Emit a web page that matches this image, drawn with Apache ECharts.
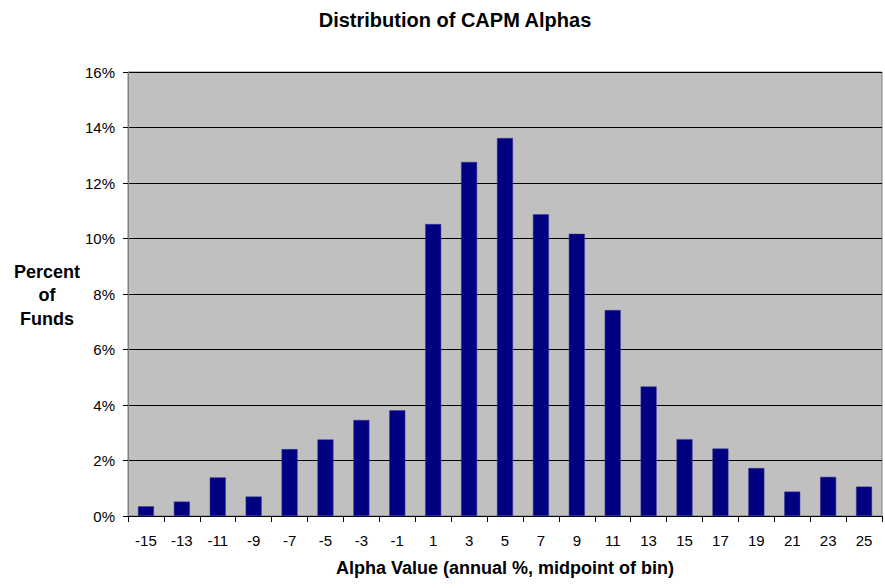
<!DOCTYPE html>
<html>
<head>
<meta charset="utf-8">
<script src="https://cdn.jsdelivr.net/npm/echarts@6/dist/echarts.min.js"></script>
<style>
  html, body { margin: 0; padding: 0; background: #fff; }
  #chart { width: 885px; height: 588px; }
</style>
</head>
<body>
<div id="chart"></div>
<script>
// bin midpoints (annual alpha %)
var alphaBins = ['-15', '-13', '-11', '-9', '-7', '-5', '-3', '-1', '1', '3', '5',
                 '7', '9', '11', '13', '15', '17', '19', '21', '23', '25'];
// percent of funds in each bin
var fundPct = [0.35, 0.52, 1.39, 0.70, 2.41, 2.76, 3.46, 3.81, 10.52, 12.76, 13.62,
               10.87, 10.17, 7.42, 4.67, 2.77, 2.43, 1.73, 0.88, 1.41, 1.06];

var font = 'Arial, "Liberation Sans", sans-serif';

var chart = echarts.init(document.getElementById('chart'), null, { renderer: 'svg' });

chart.setOption({
  animation: false,
  title: {
    text: 'Distribution of CAPM Alphas',
    left: 450,
    textAlign: 'center',
    top: 5,
    textStyle: { fontFamily: font, fontSize: 20, fontWeight: 'bold', color: '#000' }
  },
  grid: {
    left: 128, right: 3, top: 72, bottom: 72,
    show: true,
    backgroundColor: '#c0c0c0',
    borderColor: '#808080',
    borderWidth: 1
  },
  graphic: [{
    type: 'text',
    x: 47, y: 260,
    style: {
      text: 'Percent\nof\nFunds',
      textAlign: 'center',
      fontFamily: font, fontSize: 18, fontWeight: 'bold', fill: '#000',
      lineHeight: 23.5
    }
  }],
  xAxis: {
    type: 'category',
    data: alphaBins,
    name: 'Alpha Value (annual %, midpoint of bin)',
    nameLocation: 'middle',
    nameGap: 43,
    nameTextStyle: { fontFamily: font, fontSize: 18, fontWeight: 'bold', color: '#000' },
    axisLine: { lineStyle: { color: '#000', width: 1 } },
    axisTick: { show: true, length: 6, lineStyle: { color: '#000' } },
    axisLabel: { fontFamily: font, fontSize: 15, color: '#000', margin: 17, interval: 0 }
  },
  yAxis: {
    type: 'value',
    min: 0, max: 16, interval: 2,
    axisLine: { show: true, lineStyle: { color: '#808080', width: 1 } },
    axisTick: { show: true, length: 5, lineStyle: { color: '#000' } },
    axisLabel: {
      fontFamily: font, fontSize: 15, color: '#000', margin: 13,
      formatter: function (v) { return v + '%'; }
    },
    splitLine: { show: true, lineStyle: { color: '#000', width: 1 } }
  },
  series: [{
    type: 'bar',
    data: fundPct,
    barWidth: 16,
    itemStyle: { color: '#000080', borderColor: '#3a3a9a', borderWidth: 0.5 }
  }]
});
</script>
</body>
</html>
